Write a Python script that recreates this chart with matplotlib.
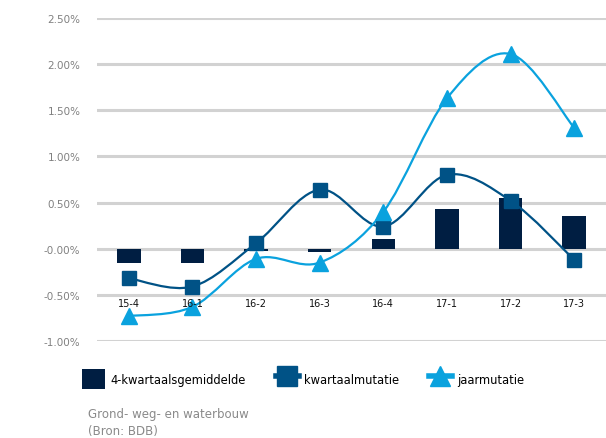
import matplotlib
matplotlib.use("Agg")
import matplotlib.pyplot as plt
import numpy as np
from matplotlib.path import Path
from matplotlib.patches import PathPatch, Patch
from matplotlib.lines import Line2D

plt.rcParams['font.family'] = ['DejaVu Sans']

categories = ["15-4", "16-1", "16-2", "16-3", "16-4", "17-1", "17-2", "17-3"]
gemiddelde = [-0.15, -0.15, -0.03, -0.04, 0.11, 0.43, 0.55, 0.35]
kwartaal = [-0.32, -0.41, 0.06, 0.64, 0.24, 0.80, 0.52, -0.12]
jaar = [-0.73, -0.63, -0.11, -0.15, 0.40, 1.63, 2.11, 1.31]
yticks = [-1.0, -0.5, 0.0, 0.5, 1.0, 1.5, 2.0, 2.5]
ytick_labels = ["-1.00%", "-0.50%", "-0.00%", "0.50%", "1.00%", "1.50%", "2.00%", "2.50%"]

c_bar = "#001e42"
c_kw = "#005286"
c_jaar = "#0aa2de"
c_grid = "#d2d2d2"

fig = plt.figure(figsize=(6.06, 4.39), dpi=100)
ax = fig.add_axes([97/606, 1-342/439, 509/606, (342-19)/439])
ax.set_xlim(-0.5, len(categories) - 0.5)
ax.set_ylim(-1.0, 2.5)
for s in ax.spines.values():
    s.set_visible(False)
ax.set_yticks(yticks)
ax.set_yticklabels(ytick_labels, color="#808080", fontsize=7.5)
ax.tick_params(axis='y', length=0, pad=12)
ax.set_xticks([])
for y in yticks:
    ax.axhline(y, color=c_grid, lw=2.2, zorder=0)

x = np.arange(len(categories))
ax.bar(x, gemiddelde, width=0.37, color=c_bar, zorder=2)


def smooth_path(xs, ys):
    pts = np.column_stack([xs, ys]).astype(float)
    n = len(pts)
    verts = [pts[0]]
    codes = [Path.MOVETO]
    for i in range(n - 1):
        p0 = pts[i - 1] if i > 0 else pts[i]
        p1 = pts[i]
        p2 = pts[i + 1]
        p3 = pts[i + 2] if i + 2 < n else pts[i + 1]
        c1 = p1 + (p2 - p0) / 6.0
        c2 = p2 - (p3 - p1) / 6.0
        verts += [c1, c2, p2]
        codes += [Path.CURVE4] * 3
    return Path(verts, codes)


for ys, col, mk, ms in [(kwartaal, c_kw, 's', 10), (jaar, c_jaar, '^', 11)]:
    ax.add_patch(PathPatch(smooth_path(x, ys), facecolor='none', edgecolor=col,
                           lw=1.6, transform=ax.transData, zorder=3))
    ax.plot(x, ys, linestyle='none', marker=mk, markersize=ms, color=col, zorder=4)

for xi, lab in zip(x, categories):
    ax.text(xi, -0.585, lab, ha='center', va='center', fontsize=7, color="#111111", zorder=5)

handles = [
    Patch(facecolor=c_bar, edgecolor='none'),
    Line2D([0], [0], color=c_kw, lw=4, marker='s', markersize=15),
    Line2D([0], [0], color=c_jaar, lw=4, marker='^', markersize=15),
]
labels = ["4-kwartaalsgemiddelde", "kwartaalmutatie", "jaarmutatie"]
fig.legend(handles, labels, loc='center left', bbox_to_anchor=(82/606, 1-380/439),
           ncol=3, frameon=False, fontsize=8.3, handlelength=2.0, handleheight=2.4,
           columnspacing=2.6, handletextpad=0.45, borderpad=0, borderaxespad=0)

fig.text(88/606, 1-423/439, "Grond- weg- en waterbouw\n(Bron: BDB)", color="#8a8a8a",
         fontsize=8.5, va='center', ha='left', linespacing=1.45)

fig.savefig("out.png", dpi=100)
